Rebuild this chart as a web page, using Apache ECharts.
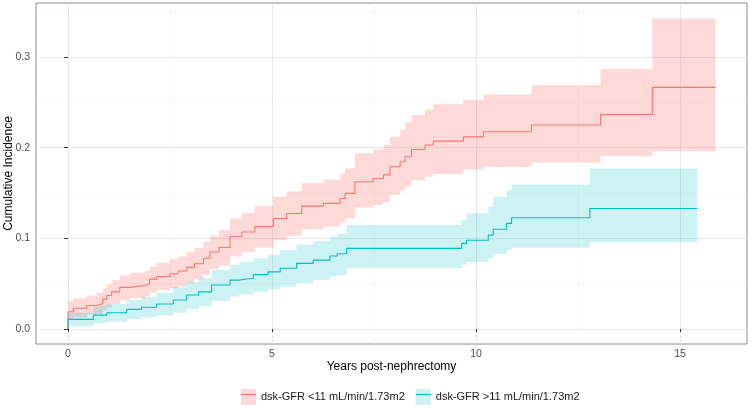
<!DOCTYPE html>
<html>
<head>
<meta charset="utf-8">
<script src="https://cdn.jsdelivr.net/npm/echarts@6/dist/echarts.min.js"></script>
<style>
html,body{margin:0;padding:0;background:#fff;}
#chart{width:752px;height:408px;}
</style>
</head>
<body>
<div id="chart"></div>
<script>
// ---- data ----
var seriesNames = ['dsk-GFR <11 mL/min/1.73m2', 'dsk-GFR >11 mL/min/1.73m2'];

// Group 1 (dsk-GFR <11): step times, estimate, lower CI, upper CI
var lowTime  = [0, 0.13, 0.46, 0.70, 0.85, 0.95, 1.07, 1.27, 1.52, 1.89, 2.00, 2.17, 2.50, 2.70, 2.91, 3.10, 3.32, 3.48, 3.70, 3.97, 4.26, 4.58, 5.03, 5.36, 5.73, 6.26, 6.67, 6.79, 7.03, 7.48, 7.73, 7.89, 8.14, 8.26, 8.42, 8.75, 8.95, 9.69, 10.18, 11.36, 13.05, 14.32, 15.87];
var lowEst   = [0.019, 0.023, 0.026, 0.028, 0.033, 0.037, 0.041, 0.046, 0.048, 0.050, 0.055, 0.058, 0.061, 0.064, 0.068, 0.072, 0.078, 0.085, 0.090, 0.102, 0.107, 0.113, 0.122, 0.1275, 0.1356, 0.1386, 0.144, 0.1496, 0.1624, 0.166, 0.170, 0.179, 0.1845, 0.190, 0.198, 0.203, 0.2073, 0.212, 0.2176, 0.225, 0.2367, 0.2665, 0.2665];
var lowLower = [0.011, 0.013, 0.016, 0.017, 0.021, 0.024, 0.028, 0.032, 0.034, 0.036, 0.040, 0.043, 0.045, 0.047, 0.051, 0.055, 0.060, 0.066, 0.070, 0.080, 0.085, 0.090, 0.098, 0.103, 0.110, 0.113, 0.117, 0.122, 0.134, 0.137, 0.140, 0.148, 0.153, 0.158, 0.164, 0.168, 0.171, 0.176, 0.179, 0.1838, 0.1907, 0.196, 0.196];
var lowUpper = [0.031, 0.034, 0.037, 0.040, 0.045, 0.049, 0.054, 0.059, 0.062, 0.064, 0.069, 0.073, 0.077, 0.080, 0.085, 0.089, 0.096, 0.103, 0.109, 0.122, 0.128, 0.136, 0.146, 0.152, 0.161, 0.165, 0.171, 0.177, 0.194, 0.198, 0.203, 0.212, 0.220, 0.228, 0.236, 0.242, 0.248, 0.253, 0.2588, 0.269, 0.2867, 0.3426, 0.3426];

// Group 2 (dsk-GFR >11)
var highTime  = [0, 0.62, 0.95, 1.44, 1.80, 2.17, 2.58, 2.91, 3.20, 3.52, 3.97, 4.20, 4.54, 4.90, 5.20, 5.60, 6.01, 6.42, 6.60, 6.83, 9.65, 9.77, 10.30, 10.42, 10.75, 10.87, 12.79, 15.42];
var highEst   = [0.0107, 0.0154, 0.018, 0.0217, 0.024, 0.0276, 0.032, 0.0375, 0.041, 0.0485, 0.054, 0.056, 0.060, 0.063, 0.067, 0.0724, 0.076, 0.0805, 0.083, 0.089, 0.0945, 0.098, 0.1036, 0.110, 0.1165, 0.1227, 0.133, 0.133];
var highLower = [0.003, 0.006, 0.008, 0.011, 0.013, 0.015, 0.018, 0.022, 0.025, 0.031, 0.036, 0.038, 0.041, 0.044, 0.047, 0.051, 0.054, 0.058, 0.060, 0.067, 0.071, 0.074, 0.078, 0.083, 0.087, 0.0896, 0.0956, 0.0956];
var highUpper = [0.018, 0.025, 0.028, 0.032, 0.035, 0.040, 0.046, 0.052, 0.056, 0.065, 0.071, 0.074, 0.078, 0.082, 0.087, 0.093, 0.097, 0.102, 0.105, 0.1147, 0.120, 0.1276, 0.135, 0.146, 0.153, 0.1595, 0.177, 0.177];

var xTicks = [0, 5, 10, 15];
var xMinorTicks = [2.5, 7.5, 12.5];
var yTicks = [0, 0.1, 0.2, 0.3];
var yMinorTicks = [0.05, 0.15, 0.25, 0.35];

var xTitle = 'Years post-nephrectomy';
var yTitle = 'Cumulative Incidence';

// ---- styling ----
var lineColors = ['#F8766D', '#00BFC4'];
var bandColors = ['rgba(248,118,109,0.27)', 'rgba(0,191,196,0.2)'];
var FONT = 'Liberation Sans, Arial, Helvetica, sans-serif';

function lineData(t, e) {
  var d = [[0, 0]];
  for (var i = 0; i < t.length; i++) d.push([t[i], e[i]]);
  return d;
}
function bandData(t, lo, hi) {
  var d = [];
  for (var i = 0; i < t.length; i++) d.push([t[i], lo[i], hi[i]]);
  return d;
}
function bandSeries(idx, rows) {
  var color = bandColors[idx];
  return {
    type: 'custom',
    name: seriesNames[idx],
    xAxisIndex: 0, yAxisIndex: 0,
    data: rows,
    encode: { x: 0, y: [1, 2] },
    z: 1,
    renderItem: function (params, api) {
      if (params.dataIndex !== 0) return null;
      var pts = [];
      for (var i = 0; i < rows.length - 1; i++) {
        pts.push(api.coord([rows[i][0], rows[i][2]]));
        pts.push(api.coord([rows[i + 1][0], rows[i][2]]));
      }
      for (var j = rows.length - 2; j >= 0; j--) {
        pts.push(api.coord([rows[j + 1][0], rows[j][1]]));
        pts.push(api.coord([rows[j][0], rows[j][1]]));
      }
      return { type: 'polygon', shape: { points: pts }, style: { fill: color }, silent: true };
    }
  };
}

var xMin = -0.784, xMax = 16.64, yMin = -0.0165, yMax = 0.3596;

var option = {
  animation: false,
  backgroundColor: '#fff',
  textStyle: { fontFamily: FONT },
  grid: { left: 36, right: 5, top: 3, bottom: 64, outerBoundsMode: 'none', containLabel: false,
    show: true, borderColor: '#8a8a8a', borderWidth: 1, backgroundColor: 'transparent' },
  legend: [
    {
      left: 241, top: 389, padding: 0, itemWidth: 15, itemHeight: 16, itemGap: 11,
      textStyle: { fontSize: 11, color: '#1a1a1a', fontFamily: FONT },
      selectedMode: false,
      data: [
        { name: seriesNames[0], icon: 'rect', itemStyle: { color: bandColors[0] } },
        { name: seriesNames[1], icon: 'rect', itemStyle: { color: bandColors[1] } }
      ]
    },
    {
      left: 241, top: 389, padding: 0, itemWidth: 15, itemHeight: 16, itemGap: 11,
      textStyle: { fontSize: 11, color: 'rgba(0,0,0,0)', fontFamily: FONT },
      selectedMode: false,
      data: [
        { name: seriesNames[0], icon: 'path://M0,0H15V1.1H0Z', itemStyle: { color: lineColors[0] } },
        { name: seriesNames[1], icon: 'path://M0,0H15V1.1H0Z', itemStyle: { color: lineColors[1] } }
      ]
    }
  ],
  xAxis: [
    {
      type: 'value', min: xMin, max: xMax,
      name: xTitle, nameLocation: 'middle', nameGap: 17, nameMoveOverlap: false,
      nameTextStyle: { fontSize: 12, color: '#000', fontFamily: FONT },
      axisLine: { show: false },
      axisTick: { show: true, length: 3, customValues: xTicks, lineStyle: { color: '#333' } },
      axisLabel: { customValues: xTicks, margin: 5, fontSize: 10.5, color: '#4D4D4D', fontFamily: FONT },
      splitLine: { show: true, lineStyle: { color: '#E8E8E8', width: 1 } }
    },
    {
      type: 'value', min: xMin, max: xMax, position: 'bottom',
      axisLine: { show: false },
      axisTick: { show: false, customValues: xMinorTicks },
      axisLabel: { show: false, customValues: xMinorTicks },
      splitLine: { show: true, lineStyle: { color: '#F3F3F3', width: 0.6 } }
    }
  ],
  yAxis: [
    {
      type: 'value', min: yMin, max: yMax,
      name: yTitle, nameLocation: 'middle', nameGap: 21, nameRotate: 90, nameMoveOverlap: false,
      nameTextStyle: { fontSize: 12, color: '#000', fontFamily: FONT },
      axisLine: { show: false },
      axisTick: { show: true, length: 4, customValues: yTicks, lineStyle: { color: '#333' } },
      axisLabel: { customValues: yTicks, margin: 6, fontSize: 10.5, color: '#4D4D4D', fontFamily: FONT,
        formatter: function (v) { return v.toFixed(1); } },
      splitLine: { show: true, lineStyle: { color: '#E8E8E8', width: 1 } }
    },
    {
      type: 'value', min: yMin, max: yMax, position: 'left',
      axisLine: { show: false },
      axisTick: { show: false, customValues: yMinorTicks },
      axisLabel: { show: false, customValues: yMinorTicks },
      splitLine: { show: true, lineStyle: { color: '#F3F3F3', width: 0.6 } }
    }
  ],
  series: [
    bandSeries(0, bandData(lowTime, lowLower, lowUpper)),
    bandSeries(1, bandData(highTime, highLower, highUpper)),
    {
      type: 'line', name: seriesNames[0], step: 'end', showSymbol: false, symbol: 'none',
      data: lineData(lowTime, lowEst), z: 3,
      lineStyle: { color: lineColors[0], width: 1.1 }, itemStyle: { color: lineColors[0] }
    },
    {
      type: 'line', name: seriesNames[1], step: 'end', showSymbol: false, symbol: 'none',
      data: lineData(highTime, highEst), z: 3,
      lineStyle: { color: lineColors[1], width: 1.1 }, itemStyle: { color: lineColors[1] }
    }
  ]
};

var chart = echarts.init(document.getElementById('chart'), null, { renderer: 'canvas' });
chart.setOption(option);
</script>
</body>
</html>
